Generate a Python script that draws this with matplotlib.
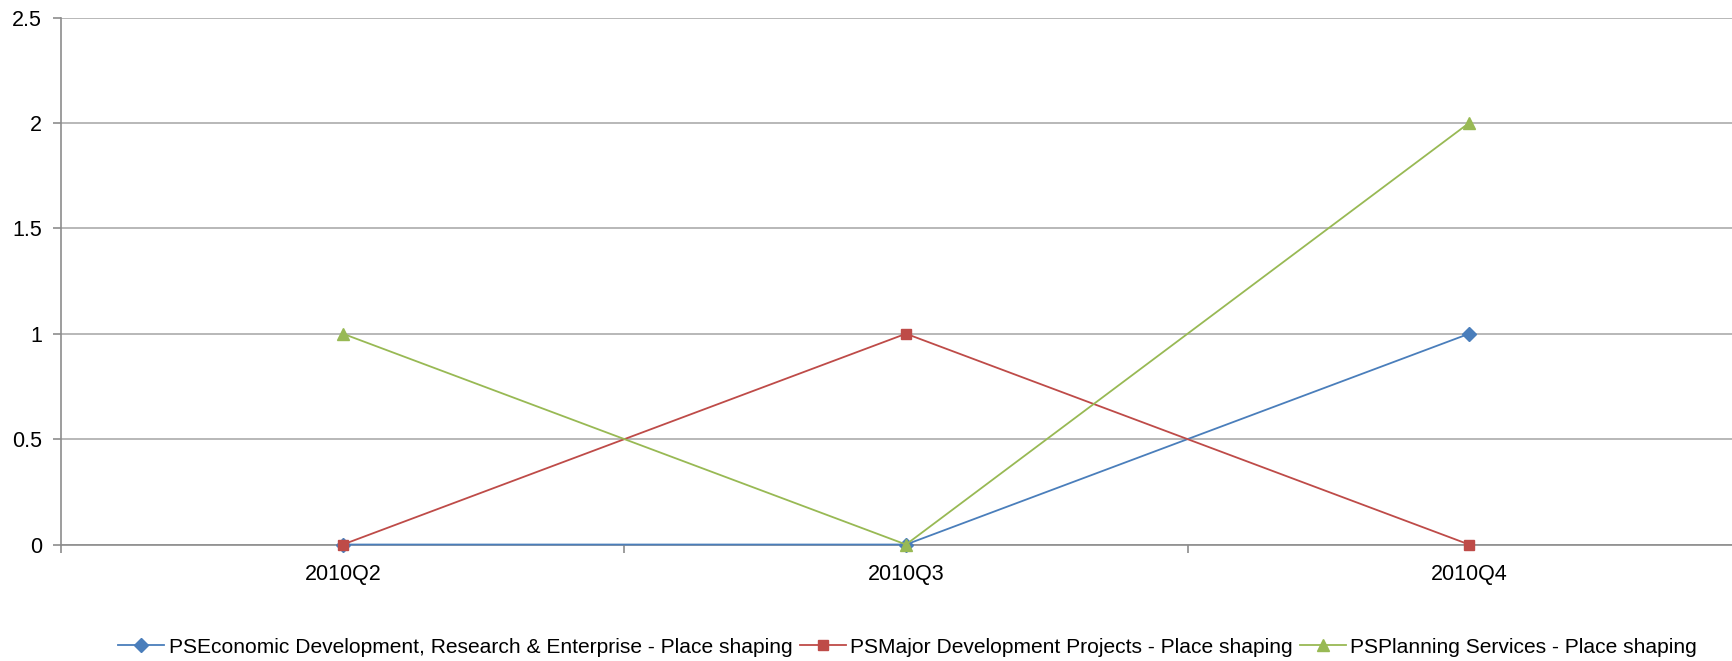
import matplotlib
matplotlib.use('Agg')
from matplotlib import pyplot as plt

plt.rcParams['font.family'] = ['Liberation Sans', 'DejaVu Sans']

quarters = ['2010Q2', '2010Q3', '2010Q4']
econ_dev = [0, 0, 1]
major_dev = [0, 1, 0]
planning = [1, 0, 2]
series_names = ['PSEconomic Development, Research & Enterprise - Place shaping',
                'PSMajor Development Projects - Place shaping',
                'PSPlanning Services - Place shaping']

colors = ['#4A7EBB', '#BE4B48', '#98B954']
markers = ['D', 's', '^']
msizes = [7.5, 7, 8]

fig = plt.figure(figsize=(17.32, 6.61), dpi=100)
ax = fig.add_axes([0.0354, 0.1762, 0.9754, 0.7973])

x = list(range(len(quarters)))
for vals, name, c, m, ms in zip([econ_dev, major_dev, planning], series_names, colors, markers, msizes):
    ax.plot(x, vals, color=c, marker=m, markersize=ms, linewidth=1.3,
            markeredgecolor=c, label=name, clip_on=False, zorder=3)

ax.set_xlim(-0.5, len(quarters) - 0.5)
ax.set_ylim(0, 2.5)
ax.set_yticks([0, 0.5, 1, 1.5, 2, 2.5])
ax.set_yticklabels(['0', '0.5', '1', '1.5', '2', '2.5'])
ax.yaxis.grid(True, color='#ABABAB', linewidth=1.2)
ax.set_axisbelow(True)

# category boundaries carry the tick marks, labels sit in the middle
ax.set_xticks([i - 0.5 for i in range(len(quarters) + 1)])
ax.set_xticklabels([])
ax.set_xticks(x, minor=True)
ax.set_xticklabels(quarters, minor=True)
ax.tick_params(axis='x', which='major', length=6, width=1.2, color='#8C8C8C', direction='out')
ax.tick_params(axis='x', which='minor', length=0, pad=14, labelsize=15.5)
ax.tick_params(axis='y', length=6, width=1.2, color='#8C8C8C', direction='out', pad=8, labelsize=15.5)

for side in ['top', 'right']:
    ax.spines[side].set_visible(False)
ax.spines['left'].set_color('#8C8C8C')
ax.spines['left'].set_linewidth(1.2)
ax.spines['bottom'].set_color('#8C8C8C')
ax.spines['bottom'].set_linewidth(1.2)

fig.legend(loc='center', bbox_to_anchor=(0.524, 0.021), ncol=3, frameon=False,
           fontsize=15.1, handlelength=2.2, handletextpad=0.2, columnspacing=0.35,
           borderaxespad=0)

fig.savefig('out.png', dpi=100)
